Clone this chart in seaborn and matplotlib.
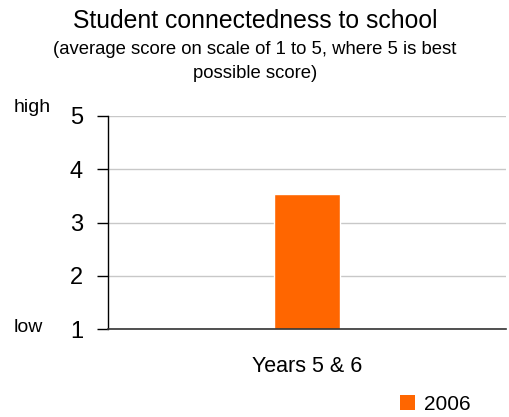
import matplotlib
matplotlib.use("Agg")
import matplotlib.pyplot as plt
import seaborn as sns
import pandas as pd
from matplotlib.patches import Patch

categories = ["Years 5 & 6"]
series_name = "2006"
values = [3.53]
yticks = [1, 2, 3, 4, 5]
bar_color = "#FF6600"

sns.set_theme(style="white")
plt.rcParams["font.family"] = ["Liberation Sans", "DejaVu Sans"]
plt.rcParams["text.color"] = "black"
plt.rcParams["ytick.color"] = "black"
plt.rcParams["ytick.labelcolor"] = "black"

df = pd.DataFrame({"category": categories, "score": values, "year": [series_name]})

fig = plt.figure(figsize=(5.10, 4.17), dpi=100)
ax = fig.add_axes([108/510, 1 - 329/417, (506-108)/510, (329-116)/417])

sns.barplot(data=df, x="category", y="score", color=bar_color, width=0.166,
            ax=ax, saturation=1)
for p in ax.patches:
    p.set_y(1)
    p.set_height(p.get_height() - 1)

ax.set_ylim(1, 5)
ax.set_xlim(-0.5, 0.5)
ax.set_yticks(yticks)
ax.set_yticklabels([str(t) for t in yticks], fontsize=17)
ax.set_xticks([])
ax.set_xlabel("")
ax.set_ylabel("")
ax.yaxis.grid(True, color="#c8c8c8", linewidth=1)
ax.set_axisbelow(True)
ax.tick_params(axis="y", left=True, length=8, width=1, color="black", pad=10)
for s in ["top", "right"]:
    ax.spines[s].set_visible(False)
ax.spines["left"].set_color("black")
ax.spines["left"].set_linewidth(1)
ax.spines["bottom"].set_color("#333333")
ax.spines["bottom"].set_linewidth(1.2)

fig.text(0.5, 1 - 21/417, "Student connectedness to school", ha="center", va="center", fontsize=17.8)
fig.text(0.5, 1 - 50/417, "(average score on scale of 1 to 5, where 5 is best", ha="center", va="center", fontsize=13.3)
fig.text(0.5, 1 - 74/417, "possible score)", ha="center", va="center", fontsize=13.3)
fig.text(14/510, 1 - 107/417, "high", ha="left", va="center", fontsize=14)
fig.text(14/510, 1 - 328/417, "low", ha="left", va="center", fontsize=14)
fig.text(307/510, 1 - 367/417, categories[0], ha="center", va="center", fontsize=15.5)

handles = [Patch(facecolor=bar_color, edgecolor="none", label=series_name)]
fig.legend(handles=handles, loc="center", bbox_to_anchor=(435/510, 1 - 404/417),
           frameon=False, fontsize=15, handlelength=0.75, handleheight=0.75,
           handletextpad=0.4, borderpad=0)

fig.savefig("out.png", dpi=100)
